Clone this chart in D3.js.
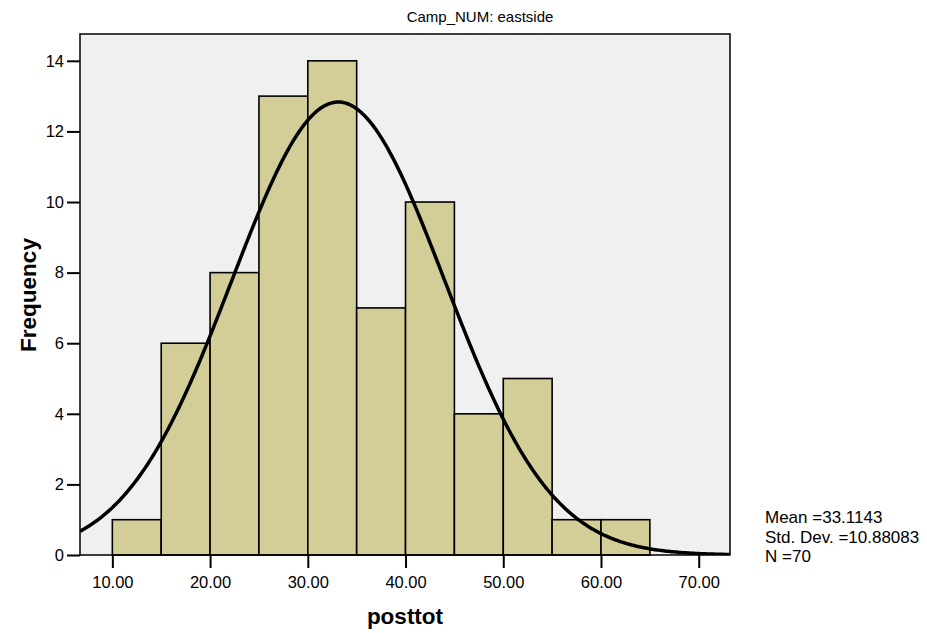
<!DOCTYPE html>
<html>
<head>
<meta charset="utf-8">
<script src="https://cdn.jsdelivr.net/npm/d3@7"></script>
<style>
  body { margin: 0; background: #fff; }
  text { font-family: "Liberation Sans", Arial, sans-serif; }
</style>
</head>
<body>
<div id="chart"></div>
<script>
// histogram bins (lower edge) and counts
const binStarts = [10, 15, 20, 25, 30, 35, 40, 45, 50, 55, 60];
const binWidth = 5;
const counts = [1, 6, 8, 13, 14, 7, 10, 4, 5, 1, 1];
const xTicks = [10, 20, 30, 40, 50, 60, 70];
const yTicks = [0, 2, 4, 6, 8, 10, 12, 14];
const mean = 33.1143;
const stdDev = 10.88083;
const n = 70;
const statLines = ["Mean =33.1143", "Std. Dev. =10.88083", "N =70"];

const svg = d3.select("#chart").append("svg")
    .attr("width", 927)
    .attr("height", 633);

const margin = { top: 34, right: 197, bottom: 78, left: 80 };
const width = 927 - margin.left - margin.right;
const height = 633 - margin.top - margin.bottom;

const g = svg.append("g").attr("transform", `translate(${margin.left},${margin.top})`);

const x = d3.scaleLinear().domain([6.69, 73.2]).range([0, width]);
const y = d3.scaleLinear().domain([0, 14.76]).range([height, 0]);

// plot background
g.append("rect")
    .attr("width", width)
    .attr("height", height)
    .attr("fill", "#f0f0f0");

// bars
g.selectAll("rect.bar")
    .data(binStarts)
    .enter().append("rect")
    .attr("class", "bar")
    .attr("x", d => x(d))
    .attr("y", (d, i) => y(counts[i]))
    .attr("width", x(binWidth) - x(0))
    .attr("height", (d, i) => height - y(counts[i]))
    .attr("fill", "#d3ce98")
    .attr("stroke", "#000")
    .attr("stroke-width", 1.6);

// normal curve scaled to counts
const curvePts = d3.range(0, 401).map(i => x.domain()[0] + i * (x.domain()[1] - x.domain()[0]) / 400);
const dens = v => n * binWidth * Math.exp(-0.5 * ((v - mean) / stdDev) ** 2) / (stdDev * Math.sqrt(2 * Math.PI));
g.append("clipPath").attr("id", "clip")
    .append("rect").attr("width", width).attr("height", height);
g.append("path")
    .datum(curvePts)
    .attr("clip-path", "url(#clip)")
    .attr("fill", "none")
    .attr("stroke", "#000")
    .attr("stroke-width", 3.5)
    .attr("d", d3.line().x(d => x(d)).y(d => y(dens(d))));

// frame
g.append("rect")
    .attr("width", width)
    .attr("height", height)
    .attr("fill", "none")
    .attr("stroke", "#000")
    .attr("stroke-width", 1.5);

// axes
const yAxis = g.append("g")
    .call(d3.axisLeft(y).tickValues(yTicks).tickSize(13).tickPadding(3).tickFormat(d3.format("d")));
const xAxis = g.append("g")
    .attr("transform", `translate(0,${height})`)
    .call(d3.axisBottom(x).tickValues(xTicks).tickSize(13).tickPadding(8).tickFormat(d3.format(".2f")));
[yAxis, xAxis].forEach(a => {
    a.select(".domain").remove();
    a.selectAll(".tick line").attr("stroke", "#000").attr("stroke-width", 2);
    a.selectAll(".tick text").attr("fill", "#000").style("font-size", "16.5px")
        .style("font-family", "'Liberation Sans', Arial, sans-serif");
});

// title
svg.append("text")
    .attr("x", 480)
    .attr("y", 22)
    .attr("text-anchor", "middle")
    .style("font-size", "15px")
    .text("Camp_NUM: eastside");

// axis titles
svg.append("text")
    .attr("x", margin.left + width / 2)
    .attr("y", 624)
    .attr("text-anchor", "middle")
    .style("font-size", "22.5px")
    .style("font-weight", "bold")
    .text("posttot");

svg.append("text")
    .attr("transform", "translate(36,295) rotate(-90)")
    .attr("text-anchor", "middle")
    .style("font-size", "22.5px")
    .style("font-weight", "bold")
    .text("Frequency");

// stats
svg.append("g").selectAll("text")
    .data(statLines)
    .enter().append("text")
    .attr("x", 765)
    .attr("y", (d, i) => 523 + i * 19.5)
    .style("font-size", "17px")
    .text(d => d);
</script>
</body>
</html>
